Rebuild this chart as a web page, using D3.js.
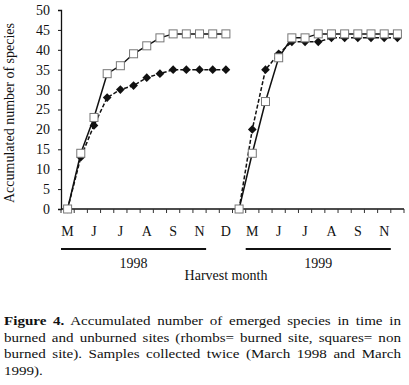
<!DOCTYPE html>
<html>
<head>
<meta charset="utf-8">
<script src="https://cdn.jsdelivr.net/npm/d3@7"></script>
<style>
  body { margin: 0; background: #fff; width: 409px; height: 385px; position: relative; overflow: hidden; }
  svg { position: absolute; left: 0; top: 0; }
  #caption {
    position: absolute; left: 4px; top: 313px; width: 356px;
    transform: scaleX(1.115); transform-origin: 0 0;
    font-family: "Liberation Serif", "Times New Roman", serif;
    font-size: 13.5px; line-height: 16.7px; color: #111;
  }
  #caption div { white-space: nowrap; text-align: justify; text-align-last: justify; }
  #caption div.last { text-align-last: left; }
</style>
</head>
<body>
<svg id="chart" width="409" height="300"></svg>
<div id="caption"></div>
<script>
// samples, one every two weeks
const burned1998   = [0, 13, 21, 28, 30, 31, 33, 34, 35, 35, 35, 35, 35];
const unburned1998 = [0, 14, 23, 34, 36, 39, 41, 43, 44, 44, 44, 44, 44];
const burned1999   = [0, 20, 35, 39, 42, 42, 42, 43, 43, 43, 43, 43, 43];
const unburned1999 = [0, 14, 27, 38, 43, 43, 44, 44, 44, 44, 44, 44, 44];
const monthLabels  = ["M", "J", "J", "A", "S", "N", "D", "M", "J", "J", "A", "S", "N"];
const years = ["1998", "1999"];
const yTicks = [0, 5, 10, 15, 20, 25, 30, 35, 40, 45, 50];
const captionLines = [
  "Accumulated number of emerged species in time in",
  "burned and unburned sites (rhombs= burned site, squares= non",
  "burned site). Samples collected twice (March 1998 and March",
  "1999)."
];

const font = "'Liberation Serif', 'Times New Roman', serif";
const nCat = burned1998.length + burned1999.length;

const x = d3.scaleBand().domain(d3.range(nCat)).range([61, 404]).padding(0);
const y = d3.scaleLinear().domain([0, 50]).range([209, 10]);

const svg = d3.select("#chart");

// y axis
const yAxis = svg.append("g")
  .attr("transform", "translate(61,0)")
  .call(d3.axisLeft(y).tickValues(yTicks).tickSize(3).tickPadding(8));
yAxis.select(".domain").attr("stroke", "#111").attr("stroke-width", 1.3);
yAxis.selectAll(".tick line").attr("stroke", "#111");
yAxis.selectAll("text").style("font-family", font).style("font-size", "14px").attr("fill", "#111");

// x axis: tick at every category boundary, labels every second category
const xAxisG = svg.append("g").attr("transform", "translate(0,209)");
xAxisG.append("line")
  .attr("x1", x.range()[0]).attr("x2", x.range()[1])
  .attr("stroke", "#111").attr("stroke-width", 1.3);
xAxisG.selectAll("line.tick")
  .data(d3.range(nCat + 1))
  .enter().append("line")
  .attr("class", "tick")
  .attr("x1", d => x.range()[0] + d * x.step())
  .attr("x2", d => x.range()[0] + d * x.step())
  .attr("y1", 0).attr("y2", 4)
  .attr("stroke", "#333");
xAxisG.selectAll("text.month")
  .data(monthLabels)
  .enter().append("text")
  .attr("class", "month")
  .attr("x", (d, i) => x(i * 2) + x.bandwidth() / 2)
  .attr("y", 27)
  .attr("text-anchor", "middle")
  .style("font-family", font).style("font-size", "14px").attr("fill", "#111")
  .text(d => d);

// year brackets
const yearSpans = [[0, 11], [14, 25]];
years.forEach((yr, i) => {
  const x0 = x(yearSpans[i][0]);
  const x1 = x(yearSpans[i][1]);
  svg.append("line")
    .attr("x1", x0).attr("x2", x1)
    .attr("y1", 249).attr("y2", 249)
    .attr("stroke", "#111").attr("stroke-width", 2);
  svg.append("text")
    .attr("x", (x0 + x1) / 2).attr("y", 268)
    .attr("text-anchor", "middle")
    .style("font-family", font).style("font-size", "14px").attr("fill", "#111")
    .text(yr);
});

svg.append("text")
  .attr("x", 226).attr("y", 279.5)
  .attr("text-anchor", "middle")
  .style("font-family", font).style("font-size", "14px").attr("fill", "#111")
  .text("Harvest month");

svg.append("text")
  .attr("transform", "translate(14,113) rotate(-90)")
  .attr("text-anchor", "middle")
  .style("font-family", font).style("font-size", "14px").attr("fill", "#111")
  .text("Accumulated number of species");

// series
const cx = i => x(i) + x.bandwidth() / 2;
const line = d3.line().x(d => cx(d.i)).y(d => y(d.v));
const toPts = (arr, offset) => arr.map((v, k) => ({ i: k + offset, v }));

const burned = [toPts(burned1998, 0), toPts(burned1999, burned1998.length)];
const unburned = [toPts(unburned1998, 0), toPts(unburned1999, unburned1998.length)];

const diamond = d3.symbol().type(d3.symbolSquare).size(38);

burned.forEach(pts => {
  svg.append("path").datum(pts)
    .attr("d", line).attr("fill", "none")
    .attr("stroke", "#111").attr("stroke-width", 1.5)
    .attr("stroke-dasharray", "4,2");
  svg.selectAll(null).data(pts).enter().append("path")
    .attr("d", diamond)
    .attr("transform", d => `translate(${cx(d.i)},${y(d.v)}) rotate(45)`)
    .attr("fill", "#111");
});

unburned.forEach(pts => {
  svg.append("path").datum(pts)
    .attr("d", line).attr("fill", "none")
    .attr("stroke", "#111").attr("stroke-width", 1.5);
  svg.selectAll(null).data(pts).enter().append("rect")
    .attr("x", d => cx(d.i) - 4).attr("y", d => y(d.v) - 4)
    .attr("width", 8).attr("height", 8)
    .attr("fill", "#fff").attr("stroke", "#777").attr("stroke-width", 1);
});

// caption, one div per printed line so the wrapping matches
const cap = d3.select("#caption");
captionLines.forEach((t, i) => {
  const row = cap.append("div").classed("last", i === captionLines.length - 1);
  if (i === 0) {
    row.append("b").text("Figure 4.");
    row.append("span").text(" " + t);
  } else {
    row.text(t);
  }
});
</script>
</body>
</html>
